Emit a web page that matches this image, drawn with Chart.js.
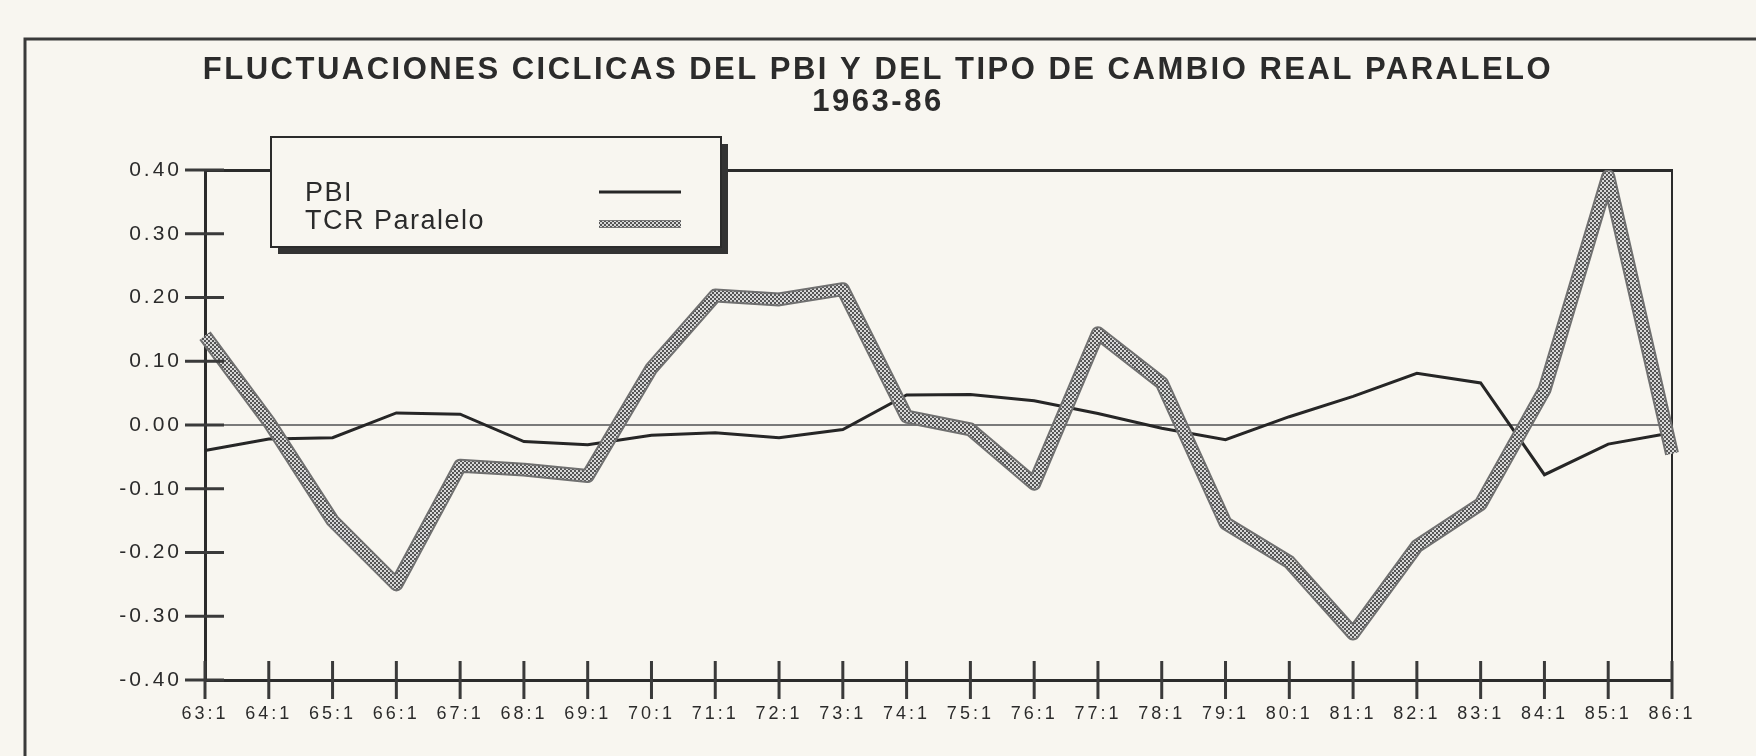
<!DOCTYPE html>
<html>
<head>
<meta charset="utf-8">
<script src="https://cdn.jsdelivr.net/npm/chart.js@4.4.1/dist/chart.umd.min.js"></script>
<style>
  html, body { margin: 0; padding: 0; background: #f8f6f0; }
  #wrap { width: 1756px; height: 756px; position: relative; }
</style>
</head>
<body>
<div id="wrap"><canvas id="ciclos"></canvas></div>
<script>
// datos
const periodos = ['63:1', '64:1', '65:1', '66:1', '67:1', '68:1', '69:1', '70:1', '71:1', '72:1', '73:1', '74:1',
                  '75:1', '76:1', '77:1', '78:1', '79:1', '80:1', '81:1', '82:1', '83:1', '84:1', '85:1', '86:1'];
const pbi = [-0.040, -0.022, -0.020, 0.019, 0.017, -0.026, -0.031, -0.016, -0.012, -0.020, -0.007, 0.047,
             0.048, 0.038, 0.018, -0.005, -0.023, 0.013, 0.045, 0.081, 0.066, -0.078, -0.030, -0.012];
const tcrParalelo = [0.140, 0.005, -0.150, -0.250, -0.064, -0.070, -0.080, 0.089, 0.203, 0.197, 0.213, 0.013,
                     -0.007, -0.092, 0.144, 0.066, -0.154, -0.215, -0.327, -0.190, -0.124, 0.055, 0.390, -0.045];
const yTicks = ['-0.40', '-0.30', '-0.20', '-0.10', '0.00', '0.10', '0.20', '0.30', '0.40'];
const titulo = ['FLUCTUACIONES CICLICAS DEL PBI Y DEL TIPO DE CAMBIO REAL PARALELO', '1963-86'];
const leyenda = ['PBI', 'TCR Paralelo'];

const fuente = "'Liberation Sans', Arial, sans-serif";
const tinta = '#2b2b2b';
const fondo = '#f8f6f0';

// trama a cuadritos de la linea del TCR
function makeHatch() {
    const c = document.createElement('canvas');
    c.width = 4; c.height = 4;
    const g = c.getContext('2d');
    g.fillStyle = '#d8d8d8';
    g.fillRect(0, 0, 4, 4);
    g.fillStyle = '#555555';
    g.fillRect(0, 0, 2, 2);
    g.fillRect(2, 2, 2, 2);
    return g.createPattern(c, 'repeat');
}
const hatch = makeHatch();

const fondoYMarco = {
    id: 'fondoYMarco',
    beforeUpdate(chart) { chart.ctx.letterSpacing = '3px'; },
    beforeDraw(chart) {
        const ctx = chart.ctx;
        ctx.letterSpacing = '3px';
        ctx.save();
        ctx.fillStyle = fondo;
        ctx.fillRect(0, 0, chart.width, chart.height);
        // marco de la pagina
        ctx.strokeStyle = '#3a3a3a';
        ctx.lineWidth = 3;
        ctx.beginPath();
        ctx.moveTo(25, chart.height);
        ctx.lineTo(25, 39);
        ctx.lineTo(chart.width, 39);
        ctx.stroke();
        ctx.restore();
    }
};

// marcas de los ejes que cruzan la linea
const marcas = {
    id: 'marcas',
    afterDatasetsDraw(chart) {
        const ctx = chart.ctx;
        const x = chart.scales.x, y = chart.scales.y;
        const area = chart.chartArea;
        ctx.save();
        ctx.strokeStyle = '#3a3a3a';
        ctx.lineWidth = 3;
        ctx.beginPath();
        y.ticks.forEach((t, i) => {
            const py = y.getPixelForTick(i);
            ctx.moveTo(area.left - 20, py);
            ctx.lineTo(area.left + 19, py);
        });
        x.ticks.forEach((t, i) => {
            const px = x.getPixelForTick(i);
            ctx.moveTo(px, area.bottom - 19);
            ctx.lineTo(px, area.bottom + 19);
        });
        ctx.stroke();
        ctx.restore();
    }
};

// titulo y cuadro de leyenda con sombra
const cuadro = {
    id: 'cuadro',
    afterDraw(chart) {
        const ctx = chart.ctx;
        ctx.save();
        ctx.fillStyle = tinta;
        ctx.letterSpacing = '2.5px';
        ctx.font = 'bold 31px ' + fuente;
        ctx.textAlign = 'center';
        ctx.textBaseline = 'middle';
        ctx.fillText(titulo[0], 878, 70);
        ctx.fillText(titulo[1], 878, 102);
        ctx.restore();

        const bx = 271, by = 137, bw = 450, bh = 110;
        ctx.save();
        ctx.fillStyle = '#333';
        ctx.fillRect(bx + 7, by + 7, bw, bh);
        ctx.fillStyle = fondo;
        ctx.fillRect(bx, by, bw, bh);
        ctx.strokeStyle = tinta;
        ctx.lineWidth = 2;
        ctx.strokeRect(bx, by, bw, bh);

        ctx.letterSpacing = '1.5px';
        ctx.fillStyle = tinta;
        ctx.font = '27px ' + fuente;
        ctx.textBaseline = 'alphabetic';
        ctx.fillText(leyenda[0], 305, 201);
        ctx.fillText(leyenda[1], 305, 229);

        ctx.lineCap = 'butt';
        ctx.strokeStyle = '#262626';
        ctx.lineWidth = 3;
        ctx.beginPath(); ctx.moveTo(599, 192); ctx.lineTo(681, 192); ctx.stroke();
        ctx.strokeStyle = '#777';
        ctx.lineWidth = 8;
        ctx.beginPath(); ctx.moveTo(599, 224); ctx.lineTo(681, 224); ctx.stroke();
        ctx.strokeStyle = hatch;
        ctx.lineWidth = 6;
        ctx.beginPath(); ctx.moveTo(599, 224); ctx.lineTo(681, 224); ctx.stroke();
        ctx.restore();
    }
};

new Chart(document.getElementById('ciclos'), {
    type: 'line',
    data: {
        labels: periodos,
        datasets: [
            { label: leyenda[0], data: pbi, borderColor: '#262626', borderWidth: 3, pointRadius: 0, tension: 0, order: 3 },
            { label: leyenda[1] + ' borde', data: tcrParalelo, borderColor: '#707070', borderWidth: 14, pointRadius: 0,
              tension: 0, borderJoinStyle: 'round', order: 2 },
            { label: leyenda[1], data: tcrParalelo, borderColor: hatch, borderWidth: 10, pointRadius: 0,
              tension: 0, borderJoinStyle: 'round', order: 1 }
        ]
    },
    options: {
        responsive: true,
        maintainAspectRatio: false,
        animation: false,
        layout: { padding: { left: 0, right: 0, top: 170, bottom: 0 } },
        plugins: {
            legend: { display: false },
            tooltip: { enabled: false },
            title: { display: false }
        },
        scales: {
            x: {
                offset: false,
                grid: { display: false, drawTicks: false },
                border: { display: true, color: tinta, width: 3 },
                ticks: { color: tinta, font: { family: fuente, size: 18 }, padding: 23, maxRotation: 0, autoSkip: false },
                afterFit(s) { s.height = 76; }
            },
            y: {
                min: -0.4,
                max: 0.4,
                grid: {
                    drawTicks: false,
                    lineWidth: ctx => (Math.abs(ctx.tick.value) < 1e-9 ? 2 : 3),
                    color: ctx => {
                        const v = ctx.tick.value;
                        if (Math.abs(v) < 1e-9) return '#7a7a7a';
                        if (Math.abs(v - 0.4) < 1e-9) return tinta;
                        return 'rgba(0,0,0,0)';
                    }
                },
                border: { display: true, color: tinta, width: 3 },
                ticks: {
                    stepSize: 0.1,
                    color: tinta,
                    padding: 23,
                    font: { family: fuente, size: 21 },
                    callback: (v) => yTicks[Math.round((v + 0.4) * 10)]
                },
                afterFit(s) { s.width = 205; }
            },
            y2: {
                position: 'right',
                min: -0.4,
                max: 0.4,
                grid: { display: false, drawTicks: false },
                border: { display: true, color: tinta, width: 2 },
                ticks: { display: false },
                afterFit(s) { s.width = 84; }
            }
        }
    },
    plugins: [fondoYMarco, marcas, cuadro]
});
</script>
</body>
</html>
